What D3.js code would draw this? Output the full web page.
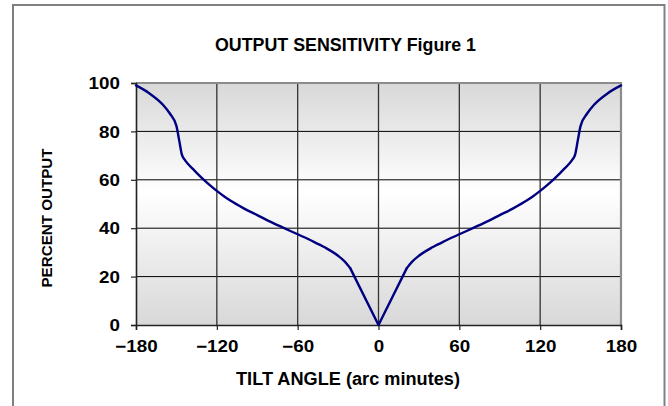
<!DOCTYPE html>
<html><head><meta charset="utf-8">
<script src="https://cdn.jsdelivr.net/npm/d3@7"></script>
<style>
body{margin:0;background:#fff;}
svg{display:block;font-family:"Liberation Sans",Arial,sans-serif;}
.xt text{transform-box:fill-box;transform-origin:center;transform:scaleX(1.14);}
.yt text{transform-box:fill-box;transform-origin:right center;transform:scaleX(1.14);}
</style>
</head><body><svg id="c" width="668" height="406"></svg>
<script>
// Data (tilt angle in arc minutes, percent output)
const angles = [-180,-170,-160,-155,-150,-148,-146,-144,-141,-138,-135,-130,-125,-120,-115,-110,-100,-90,-80,-70,-60,-50,-40,-30,-25,-21,0,
                21,25,30,40,50,60,70,80,90,100,110,115,120,125,130,135,138,141,144,146,148,150,155,160,170,180];
const output = [99,95.7,91,87.5,82.3,76.5,70.5,68.4,66.3,64.6,62.9,60.2,57.7,55.4,53.3,51.4,48.2,45.4,42.6,40,37.5,34.9,32.1,28.6,26.2,23.5,0,
                23.5,26.2,28.6,32.1,34.9,37.5,40,42.6,45.4,48.2,51.4,53.3,55.4,57.7,60.2,62.9,64.6,66.3,68.4,70.5,76.5,82.3,87.5,91,95.7,99];
const xTicks = [-180,-120,-60,0,60,120,180];
const yTicks = [0,20,40,60,80,100];
const title = "OUTPUT SENSITIVITY Figure 1";
const xLabel = "TILT ANGLE (arc minutes)";
const yLabel = "PERCENT OUTPUT";

const svg = d3.select("#c");
// outer frame
svg.append("rect").attr("x",13).attr("y",5).attr("width",651.5).attr("height",420)
  .attr("fill","#fff").attr("stroke","#808080").attr("stroke-width",2);

const L=136, R=621, T=83, B=325;
const x = d3.scaleLinear().domain([-180,180]).range([L,R]);
const y = d3.scaleLinear().domain([0,100]).range([B,T]);

const defs = svg.append("defs");
const g = defs.append("linearGradient").attr("id","bg").attr("x1",0).attr("y1",0).attr("x2",0).attr("y2",1);
g.append("stop").attr("offset","0%").attr("stop-color","#d8d8d8");
g.append("stop").attr("offset","45%").attr("stop-color","#ffffff");
g.append("stop").attr("offset","100%").attr("stop-color","#d8d8d8");

svg.append("rect").attr("x",L).attr("y",T).attr("width",R-L).attr("height",B-T).attr("fill","url(#bg)");

// horizontal grid
svg.append("g").selectAll("line").data(yTicks.filter(d=>d>0&&d<100)).join("line")
  .attr("x1",L).attr("x2",R).attr("y1",d=>y(d)).attr("y2",d=>y(d))
  .attr("stroke","#000").attr("stroke-width",1);
// vertical grid
svg.append("g").selectAll("line").data(xTicks.filter(d=>d>-180&&d<180)).join("line")
  .attr("x1",d=>x(d)).attr("x2",d=>x(d)).attr("y1",T).attr("y2",B)
  .attr("stroke","#333").attr("stroke-width",1.3);
// top/right border
svg.append("path").attr("d",`M${L},${T}H${R}V${B}`).attr("fill","none").attr("stroke","#8c8c8c").attr("stroke-width",2.2);

// axes
const xAxis = svg.append("g").attr("class","xt").attr("transform",`translate(0,${B})`)
  .call(d3.axisBottom(x).tickValues(xTicks).tickSize(5).tickPadding(6).tickFormat(d3.format("d")));
const yAxis = svg.append("g").attr("class","yt").attr("transform",`translate(${L},0)`)
  .call(d3.axisLeft(y).tickValues(yTicks).tickSize(5).tickPadding(11).tickFormat(d3.format("d")));
[xAxis,yAxis].forEach(a=>{
  a.select(".domain").attr("stroke","#222").attr("stroke-width",1.6);
  a.selectAll(".tick line").attr("stroke","#222").attr("stroke-width",1.2);
  a.selectAll("text").attr("font-family","Liberation Sans, Arial, sans-serif").attr("font-weight","bold").attr("font-size",16.5).attr("fill","#000");
});
xAxis.selectAll("text").attr("dy","0.95em");
yAxis.selectAll("text").attr("dy","0.35em");

// curve: smooth outer parts, straight V near the center
const pts = angles.map((a,i)=>({a, v: output[i]}));
const smooth = d3.line().x(d=>x(d.a)).y(d=>y(d.v)).curve(d3.curveMonotoneX);
const straight = d3.line().x(d=>x(d.a)).y(d=>y(d.v));
const parts = [
  [pts.filter(d=>d.a<=-21), smooth],
  [pts.filter(d=>d.a>=-21&&d.a<=21), straight],
  [pts.filter(d=>d.a>=21), smooth]
];
parts.forEach(([part,gen])=>{
  svg.append("path").datum(part).attr("d",gen).attr("fill","none")
    .attr("stroke","#000080").attr("stroke-width",2.4).attr("stroke-linejoin","round").attr("stroke-linecap","round");
});

// texts
svg.append("text").attr("x",345.5).attr("y",51).attr("text-anchor","middle")
  .attr("font-weight","bold").attr("font-size",18).attr("textLength",261).attr("lengthAdjust","spacingAndGlyphs").text(title);
svg.append("text").attr("x",348).attr("y",385).attr("text-anchor","middle")
  .attr("font-weight","bold").attr("font-size",18).attr("textLength",224).attr("lengthAdjust","spacingAndGlyphs").text(xLabel);
svg.append("text").attr("transform","translate(52,218) rotate(-90)").attr("text-anchor","middle")
  .attr("font-weight","bold").attr("font-size",14).attr("textLength",139).attr("lengthAdjust","spacingAndGlyphs").text(yLabel);
</script></body></html>
